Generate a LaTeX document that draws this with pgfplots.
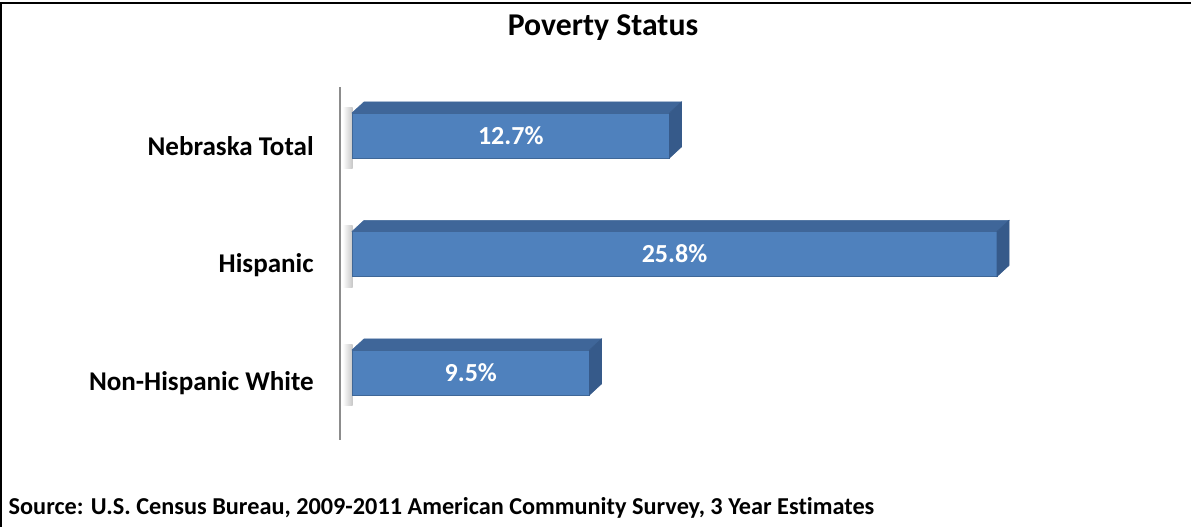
\documentclass[border=0pt]{standalone}
\usepackage{pgfplots}
\pgfplotsset{compat=1.18}
\usepackage{fontspec}
\setmainfont{Carlito}[Ligatures=NoCommon]
\definecolor{barfront}{RGB}{79,129,189}
\definecolor{bartop}{RGB}{63,102,153}
\definecolor{barside}{RGB}{54,90,138}
\definecolor{axisgray}{RGB}{140,140,140}
\begin{document}
\begin{tikzpicture}
\begin{scope}[x=0.75pt,y=-0.75pt]
\path[use as bounding box] (0,0) rectangle (1191,527);
\draw[line width=1.5pt] (1,527) -- (1,3) -- (1191,3);
\node[font=\bfseries\fontsize{23.8}{28}\selectfont] at (603,28) {Poverty Status};
\node[anchor=west,font=\bfseries\fontsize{18.2}{22}\selectfont] at (4,508) {Source: U.S. Census Bureau, 2009-2011 American Community Survey, 3 Year Estimates};
\end{scope}
\begin{axis}[
  at={(255pt,-65.25pt)}, anchor=north west,
  scale only axis, width=571.5pt, height=264.75pt,
  xmin=-0.48, xmax=30, ymin=-0.409, ymax=2.57,
  y dir=reverse,
  axis x line=none, axis y line=left,
  axis line style={-},
  y axis line style={draw=axisgray, line width=1.5pt},
  ytick={0,1,2},
  yticklabels={Nebraska Total,Hispanic,Non-Hispanic White},
  major tick length=0pt,
  yticklabel style={font=\bfseries\fontsize{20.3}{24}\selectfont, yshift=-8.25pt, xshift=-16.25pt},
  clip=false,
]
% shadows
\addplot[draw=none, left color=white, right color=black!22] coordinates {(-0.38,-0.24) (0.02,-0.24) (0.02,0.28) (-0.38,0.28)} -- cycle;
\addplot[draw=none, left color=white, right color=black!22] coordinates {(-0.38,0.76) (0.02,0.76) (0.02,1.28) (-0.38,1.28)} -- cycle;
\addplot[draw=none, left color=white, right color=black!22] coordinates {(-0.38,1.76) (0.02,1.76) (0.02,2.28) (-0.38,2.28)} -- cycle;
% front faces
\addplot[xbar, bar width=0.38, fill=barfront, draw=barfront!80!black] coordinates {(12.7,0) (25.8,1) (9.5,2)};
% top faces
\addplot[fill=bartop, draw=bartop] coordinates {(0,-0.19) (12.7,-0.19) (13.18,-0.283) (0.48,-0.283)} -- cycle;
\addplot[fill=bartop, draw=bartop] coordinates {(0,0.81) (25.8,0.81) (26.28,0.717) (0.48,0.717)} -- cycle;
\addplot[fill=bartop, draw=bartop] coordinates {(0,1.81) (9.5,1.81) (9.98,1.717) (0.48,1.717)} -- cycle;
% side faces
\addplot[fill=barside, draw=barside] coordinates {(12.7,-0.19) (13.18,-0.283) (13.18,0.097) (12.7,0.19)} -- cycle;
\addplot[fill=barside, draw=barside] coordinates {(25.8,0.81) (26.28,0.717) (26.28,1.097) (25.8,1.19)} -- cycle;
\addplot[fill=barside, draw=barside] coordinates {(9.5,1.81) (9.98,1.717) (9.98,2.097) (9.5,2.19)} -- cycle;
% value labels
\addplot[draw=none, mark=none, point meta=explicit symbolic,
  nodes near coords, nodes near coords align={center},
  every node near coord/.append style={anchor=center, text=white, font=\bfseries\fontsize{19.5}{23}\selectfont}]
  coordinates {(6.35,0) [12.7\%] (12.9,1) [25.8\%] (4.75,2) [9.5\%]};
\end{axis}
\end{tikzpicture}
\end{document}
